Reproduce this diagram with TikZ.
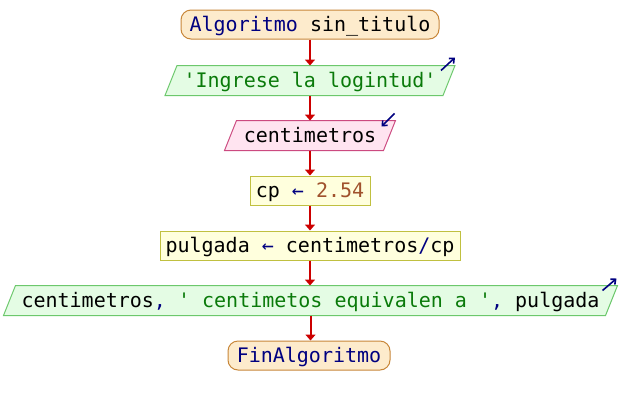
\documentclass[tikz,border=0pt]{standalone}
\usepackage{fontspec}
\setmonofont{DejaVu Sans Mono}
\usetikzlibrary{arrows.meta,backgrounds,calc}

\definecolor{kw}{HTML}{000080}
\definecolor{strcol}{HTML}{0A7A0A}
\definecolor{numcol}{HTML}{A0522D}
\definecolor{flowred}{HTML}{CC0000}
\definecolor{termfill}{HTML}{FDEBCC}
\definecolor{termline}{HTML}{C8873A}
\definecolor{outfill}{HTML}{E4FCE4}
\definecolor{outline}{HTML}{6CC86C}
\definecolor{infill}{HTML}{FFE4F0}
\definecolor{inline}{HTML}{CC4A80}
\definecolor{procfill}{HTML}{FFFFDD}
\definecolor{procline}{HTML}{C0C040}

% slanted outline behind an input/output node
\newcommand\slantoutline[2]{%
  \draw[#2] ($(#1.south west)+(-6,0)$) -- ($(#1.north west)+(6,0)$)
    -- ($(#1.north east)+(6,0)$) -- ($(#1.south east)+(-6,0)$) -- cycle;}

\begin{document}
\begin{tikzpicture}[x=1pt,y=-1pt,
  box/.style={inner sep=0pt, text height=17pt, text depth=4pt,
    minimum height=29pt, font=\ttfamily\fontsize{20}{24}\selectfont,
    line width=1pt},
  term/.style={box, draw=termline, fill=termfill, rounded corners=10pt},
  proc/.style={box, draw=procline, fill=procfill},
  iobox/.style={box},
  outshape/.style={draw=outline, fill=outfill, line width=1pt},
  inshape/.style={draw=inline, fill=infill, line width=1pt},
  flow/.style={draw=flowred, line width=2pt, -{Triangle[length=6pt,width=10pt]}},
  dirmark/.style={draw=kw, line width=1.6pt, -{Straight Barb[length=4pt,width=7pt]}}
]
\useasboundingbox (0,0) rectangle (620,405);

\node[term, minimum width=258pt] (start) at (310,24.5)
  {{\color{kw}Algoritmo} sin\_titulo};
\node[iobox, minimum width=277pt] (out1) at (310,80.5)
  {\color{strcol}'Ingrese la logintud'};
\node[iobox, minimum width=158pt] (in1) at (310,135.5)
  {centimetros};
\node[proc, minimum width=120pt] (asg1) at (310,190.5)
  {cp {\color{kw}←} {\color{numcol}2.54}};
\node[proc, minimum width=300pt] (asg2) at (310,245.5)
  {pulgada {\color{kw}←} centimetros{\color{kw}/}cp};
\node[iobox, minimum width=601pt] (out2) at (310.5,300.5)
  {centimetros{\color{kw},} {\color{strcol}' centimetos equivalen a '}{\color{kw},} pulgada};
\node[term, minimum width=162pt] (fin) at (309,355.5)
  {{\color{kw}FinAlgoritmo}};

\begin{scope}[on background layer]
  \fill[white] (0,0) rectangle (620,405);
  \slantoutline{out1}{outshape}
  \slantoutline{in1}{inshape}
  \slantoutline{out2}{outshape}
\end{scope}

% read / write markers
\draw[dirmark] ($(out1.north east)+(-8,5)$) -- ++(14,-13);
\draw[dirmark] ($(in1.north east)+(5,-7)$) -- ++(-13,13);
\draw[dirmark] ($(out2.north east)+(-9,5)$) -- ++(14,-12);

% flow
\draw[flow] (start) -- (out1);
\draw[flow] (out1) -- (in1);
\draw[flow] (in1) -- (asg1);
\draw[flow] (asg1) -- (asg2);
\draw[flow] (asg2.south) -- (asg2.south |- out2.north);
\draw[flow] (out2.north |- out2.south) -- (out2.north |- fin.north);
\end{tikzpicture}
\end{document}
